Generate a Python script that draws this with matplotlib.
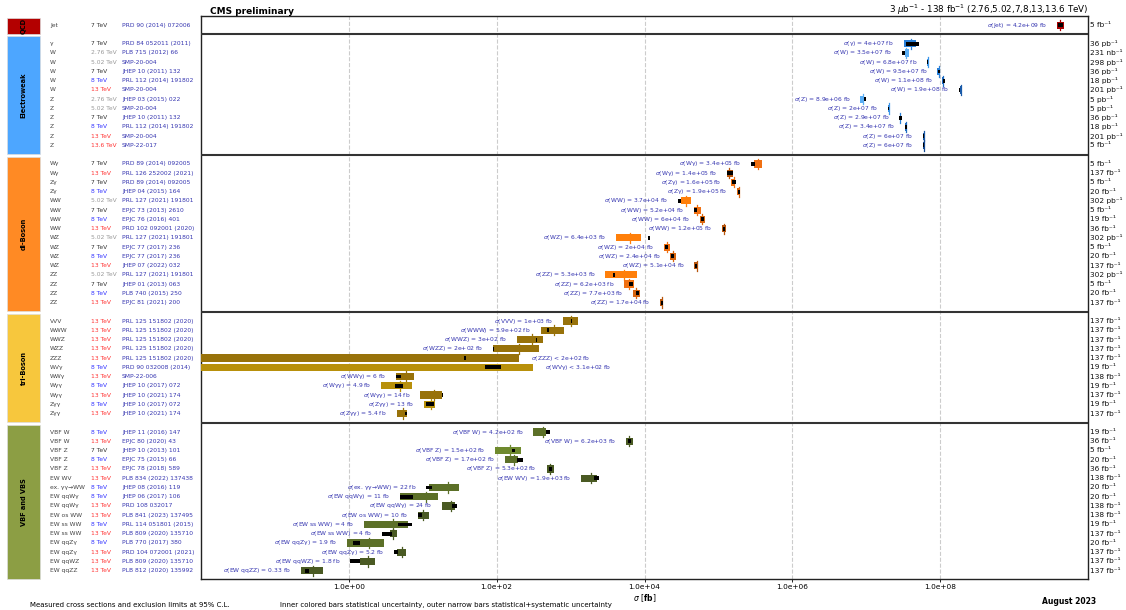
import numpy as np
import matplotlib
matplotlib.use('Agg')
import matplotlib.pyplot as plt
from matplotlib import transforms
from matplotlib.patches import Rectangle

# groups (top to bottom)
groups = ['QCD', 'Electroweak', 'di-Boson', 'tri-Boson', 'VBF and VBS']
group_sizes = [1, 12, 16, 11, 16]
group_colors = ['#b30000', '#4da6ff', '#ff8a24', '#f7c73d', '#8c9e44']

procs = ['Jet',
         'γ', 'W', 'W', 'W', 'W', 'W', 'Z', 'Z', 'Z', 'Z', 'Z', 'Z',
         'Wγ', 'Wγ', 'Zγ', 'Zγ', 'WW', 'WW', 'WW', 'WW', 'WZ', 'WZ', 'WZ', 'WZ',
         'ZZ', 'ZZ', 'ZZ', 'ZZ',
         'VVV', 'WWW', 'WWZ', 'WZZ', 'ZZZ', 'WVγ', 'WWγ', 'Wγγ', 'Wγγ', 'Zγγ', 'Zγγ',
         'VBF W', 'VBF W', 'VBF Z', 'VBF Z', 'VBF Z', 'EW WV', 'ex. γγ→WW',
         'EW qqWγ', 'EW qqWγ', 'EW os WW', 'EW ss WW', 'EW ss WW', 'EW qqZγ',
         'EW qqZγ', 'EW qqWZ', 'EW qqZZ']

energies = ['7',
            '7', '2.76', '5.02', '7', '8', '13', '2.76', '5.02', '7', '8', '13', '13.6',
            '7', '13', '7', '8', '5.02', '7', '8', '13', '5.02', '7', '8', '13',
            '5.02', '7', '8', '13',
            '13', '13', '13', '13', '13', '8', '13', '8', '13', '8', '13',
            '8', '13', '7', '8', '13', '13', '8', '8', '13', '13', '8', '13', '8',
            '13', '13', '13']

refs = ['PRD 90 (2014) 072006',
        'PRD 84 052011 (2011)', 'PLB 715 (2012) 66', 'SMP-20-004', 'JHEP 10 (2011) 132',
        'PRL 112 (2014) 191802', 'SMP-20-004', 'JHEP 03 (2015) 022', 'SMP-20-004',
        'JHEP 10 (2011) 132', 'PRL 112 (2014) 191802', 'SMP-20-004', 'SMP-22-017',
        'PRD 89 (2014) 092005', 'PRL 126 252002 (2021)', 'PRD 89 (2014) 092005',
        'JHEP 04 (2015) 164', 'PRL 127 (2021) 191801', 'EPJC 73 (2013) 2610',
        'EPJC 76 (2016) 401', 'PRD 102 092001 (2020)', 'PRL 127 (2021) 191801',
        'EPJC 77 (2017) 236', 'EPJC 77 (2017) 236', 'JHEP 07 (2022) 032',
        'PRL 127 (2021) 191801', 'JHEP 01 (2013) 063', 'PLB 740 (2015) 250',
        'EPJC 81 (2021) 200',
        'PRL 125 151802 (2020)', 'PRL 125 151802 (2020)', 'PRL 125 151802 (2020)',
        'PRL 125 151802 (2020)', 'PRL 125 151802 (2020)', 'PRD 90 032008 (2014)',
        'SMP-22-006', 'JHEP 10 (2017) 072', 'JHEP 10 (2021) 174', 'JHEP 10 (2017) 072',
        'JHEP 10 (2021) 174',
        'JHEP 11 (2016) 147', 'EPJC 80 (2020) 43', 'JHEP 10 (2013) 101', 'EPJC 75 (2015) 66',
        'EPJC 78 (2018) 589', 'PLB 834 (2022) 137438', 'JHEP 08 (2016) 119',
        'JHEP 06 (2017) 106', 'PRD 108 032017', 'PLB 841 (2023) 137495',
        'PRL 114 051801 (2015)', 'PLB 809 (2020) 135710', 'PLB 770 (2017) 380',
        'PRD 104 072001 (2021)', 'PLB 809 (2020) 135710', 'PLB 812 (2020) 135992']

lumis = ['5 fb',
         '36 pb', '231 nb', '298 pb', '36 pb', '18 pb', '201 pb', '5 pb', '5 pb',
         '36 pb', '18 pb', '201 pb', '5 fb',
         '5 fb', '137 fb', '5 fb', '20 fb', '302 pb', '5 fb', '19 fb', '36 fb',
         '302 pb', '5 fb', '20 fb', '137 fb', '302 pb', '5 fb', '20 fb', '137 fb',
         '137 fb', '137 fb', '137 fb', '137 fb', '137 fb', '19 fb', '138 fb', '19 fb',
         '137 fb', '19 fb', '137 fb',
         '19 fb', '36 fb', '5 fb', '20 fb', '36 fb', '138 fb', '20 fb', '20 fb',
         '138 fb', '138 fb', '19 fb', '137 fb', '20 fb', '137 fb', '137 fb', '137 fb']

# measured cross section [fb] (for limits: the 95% CL upper limit)
sigma = [4.2e9,
         4e7, 3.5e7, 6.8e7, 9.5e7, 1.1e8, 1.9e8, 8.9e6, 2e7, 2.9e7, 3.4e7, 6e7, 6e7,
         3.4e5, 1.4e5, 1.6e5, 1.9e5, 3.7e4, 5.2e4, 6e4, 1.2e5, 6.4e3, 2e4, 2.4e4, 5.1e4,
         5.3e3, 6.2e3, 7.7e3, 1.7e4,
         1e3, 5.9e2, 3e2, 2e2, 2e2, 3.1e2, 6, 4.9, 14, 13, 5.4,
         4.2e2, 6.2e3, 1.5e2, 1.7e2, 5.3e2, 1.9e3, 22, 11, 24, 10, 4, 4, 1.9, 5.2,
         1.8, 0.33]
is_limit = [False] * 33 + [True, True] + [False] * 21

meas_lo = [3.8e9,
           3.2e7, 3.3e7, 6.6e7, 9.2e7, 1.07e8, 1.85e8, 8.3e6, 1.95e7, 2.85e7, 3.3e7, 5.9e7, 5.9e7,
           3.05e5, 1.3e5, 1.5e5, 1.79e5, 3.07e4, 4.73e4, 5.57e4, 1.12e5, 4.1e3, 1.83e4,
           2.23e4, 4.69e4, 2.96e3, 5.3e3, 6.97e3, 1.62e4,
           7.8e2, 3.94e2, 1.87e2, 89, np.nan, np.nan, 4.28, 2.69, 9.25, 10.3, 4.45,
           314, 5.6e3, 94, 128, 473, 1.4e3, 12.3, 4.93, 18.4, 8.5, 1.59, 3.55, 0.93, 4.45,
           1.41, 0.224]
meas_hi = [4.8e9,
           4.7e7, 3.8e7, 7.0e7, 9.8e7, 1.13e8, 1.95e8, 9.3e6, 2.05e7, 2.95e7, 3.5e7, 6.1e7, 6.1e7,
           3.87e5, 1.57e5, 1.66e5, 1.98e5, 4.31e4, 5.82e4, 6.59e4, 1.26e5, 8.9e3, 2.21e4,
           2.65e4, 5.3e4, 7.9e3, 7.25e3, 8.65e3, 1.78e4,
           1.26e3, 8.18e2, 4.28e2, 378, 2e2, 3.1e2, 7.69, 7.14, 18.4, 14.7, 6.12,
           463, 6.9e3, 214, 197, 593, 2.29e3, 31.2, 16.3, 27.0, 12.2, 6.25, 4.45, 2.95, 6.0,
           2.25, 0.443]

# theory prediction band (black bars)
theo_lo = [3.9e9,
           3.4e7, 3.0e7, 6.6e7, 9.3e7, 1.08e8, 1.78e8, 9.3e6, 1.96e7, 2.8e7, 3.3e7, 5.9e7, 5.9e7,
           2.75e5, 1.32e5, 1.55e5, 1.82e5, 2.86e4, 4.73e4, 5.8e4, 1.16e5, 1.12e4, 1.89e4,
           2.3e4, 4.84e4, 3.72e3, 6.2e3, 7.57e3, 1.66e4,
           1.0e3, 4.85e2, 3.42e2, 90, 36, 70, 4.28, 4.18, 18.0, 11.0, 5.82,
           463, 5.97e3, 160, 187, 508, 2.1e3, 11.2, 4.93, 24.6, 8.5, 4.59, 2.8, 1.14, 4.06,
           1.03, 0.259]
theo_hi = [4.6e9,
           5.1e7, 3.3e7, 6.95e7, 9.9e7, 1.16e8, 1.84e8, 9.8e6, 2.04e7, 3.0e7, 3.55e7, 6.1e7, 6.1e7,
           3.12e5, 1.57e5, 1.72e5, 1.98e5, 3.14e4, 5.14e4, 6.3e4, 1.23e5, 1.19e4, 2.07e4,
           2.47e4, 5.14e4, 3.99e3, 6.9e3, 8.38e3, 1.76e4,
           1.04e3, 5.15e2, 3.52e2, 93, 38, 114, 5.08, 5.47, 19.0, 14.4, 6.06,
           525, 6.55e3, 178, 225, 552, 2.41e3, 13.5, 7.45, 29.3, 9.9, 7.08, 3.81, 1.41, 4.59,
           1.43, 0.293]

# light to dark bars by energy, per group
bar_colors = {
    'QCD': {'7': '#a80000'},
    'Electroweak': {'2.76': '#5aaef5', '5.02': '#3c95e8', '7': '#2a80d8',
                    '8': '#1f6cc2', '13': '#1a5aa8', '13.6': '#154a92'},
    'di-Boson': {'5.02': '#ff7f0a', '7': '#f07012', '8': '#d8650f', '13': '#b8560e'},
    'tri-Boson': {'8': '#b8900b', '13': '#98720a'},
    'VBF and VBS': {'7': '#6f8a2e', '8': '#5c7028', '13': '#4a5a23'},
}
energy_colors = {'2.76': '#999999', '5.02': '#999999', '7': '#333333',
                 '8': '#3333ff', '13': '#ff3333', '13.6': '#ff3333'}

W, H = 1126, 610
fig = plt.figure(figsize=(W / 100, H / 100), dpi=100)
ax = fig.add_axes([201 / W, 1 - 579 / H, 887 / W, 563 / H])

# row positions, one empty row between groups
rows, row_group, seps = [], [], []
k = 0
for g, n in zip(groups, group_sizes):
    rows.extend(range(k, k + n))
    row_group.extend([g] * n)
    k += n
    seps.append(k)
    k += 1
seps = seps[:-1]

xmin, xmax = 1e-2, 1e10
txt_blue = '#3535b0'

for i, y in enumerate(rows):
    col = bar_colors[row_group[i]][energies[i]]
    lo = xmin if is_limit[i] else meas_lo[i]
    ax.barh(y, meas_hi[i] - lo, left=lo, height=0.78, color=col, lw=0, zorder=3)
    if not is_limit[i]:
        ax.plot([sigma[i], sigma[i]], [y - 0.55, y + 0.55], color=col, lw=0.9, zorder=3)
    ax.barh(y, theo_hi[i] - theo_lo[i], left=theo_lo[i], height=0.42,
            color='black', lw=0, zorder=4)
    if is_limit[i]:
        ax.annotate(r'$\sigma$(%s) < %.2g fb' % (procs[i], sigma[i]), xy=(meas_hi[i], y),
                    xytext=(9, 0), textcoords='offset points', ha='left', va='center',
                    fontsize=4.3, color=txt_blue)
    else:
        left = min(meas_lo[i], theo_lo[i])
        ax.annotate(r'$\sigma$(%s) = %.2g fb' % (procs[i], sigma[i]), xy=(left, y),
                    xytext=(-7, 0), textcoords='offset points', ha='right', va='center',
                    fontsize=4.3, color=txt_blue)

for s in seps:
    ax.axhline(s, color='#333333', lw=1.5, zorder=5)

ax.set_xscale('log')
ax.set_xlim(xmin, xmax)
ax.set_ylim(59.9, -1.0)
ax.set_yticks([])
ax.set_xticks([1e0, 1e2, 1e4, 1e6, 1e8])
ax.set_xticklabels(['1.0e+00', '1.0e+02', '1.0e+04', '1.0e+06', '1.0e+08'])
ax.minorticks_off()
ax.tick_params(axis='x', labelsize=5.3, length=2, width=0.6, pad=1.5)
ax.grid(axis='x', color='#cccccc', ls='--', lw=0.8, zorder=0)
for sp in ax.spines.values():
    sp.set_color('#222222')
    sp.set_linewidth(1.0)

# left columns: group blocks, process, energy, reference
trans = transforms.blended_transform_factory(fig.transFigure, ax.transData)
start = 0
for g, n, c in zip(groups, group_sizes, group_colors):
    y0 = rows[start] - 0.8
    y1 = rows[start + n - 1] + 0.9
    fig.add_artist(Rectangle((7 / W, y0), 33 / W, y1 - y0, transform=trans,
                             facecolor=c, edgecolor='#dddddd', lw=0.5, clip_on=False))
    fig.text(23.5 / W, (y0 + y1) / 2, g, transform=trans, rotation=90, ha='center',
             va='center', fontsize=4.8, fontweight='bold', color='black')
    start += n

for i, y in enumerate(rows):
    fig.text(50 / W, y, procs[i], transform=trans, ha='left', va='center',
             fontsize=4.3, color='#444444')
    fig.text(91 / W, y, energies[i] + ' TeV', transform=trans, ha='left', va='center',
             fontsize=4.3, color=energy_colors[energies[i]])
    fig.text(122 / W, y, refs[i], transform=trans, ha='left', va='center',
             fontsize=4.3, color=txt_blue)
    fig.text(1090 / W, y, lumis[i] + '⁻¹', transform=trans, ha='left', va='center',
             fontsize=5.3, color='#111111')

fig.text(210 / W, 1 - 11 / H, 'CMS preliminary', fontsize=6.5, fontweight='bold',
         va='center', ha='left')
fig.text(1088 / W, 1 - 10 / H,
         r'3 $\mu$b$^{-1}$ - 138 fb$^{-1}$ (2.76,5.02,7,8,13,13.6 TeV)',
         fontsize=6.3, va='center', ha='right')
fig.text(645 / W, 1 - 598 / H, r'$\sigma$ [$\mathbf{fb}$]', fontsize=5.5,
         ha='center', va='center')
fig.text(30 / W, 1 - 605 / H, 'Measured cross sections and exclusion limits at 95% C.L.',
         fontsize=5.0, ha='left', va='center')
fig.text(280 / W, 1 - 605 / H,
         'Inner colored bars statistical uncertainty, outer narrow bars '
         'statistical+systematic uncertainty', fontsize=5.0, ha='left', va='center')
fig.text(1096 / W, 1 - 601 / H, 'August 2023', fontsize=5.5, fontweight='bold',
         ha='right', va='center')

fig.savefig('out.png', dpi=100)
